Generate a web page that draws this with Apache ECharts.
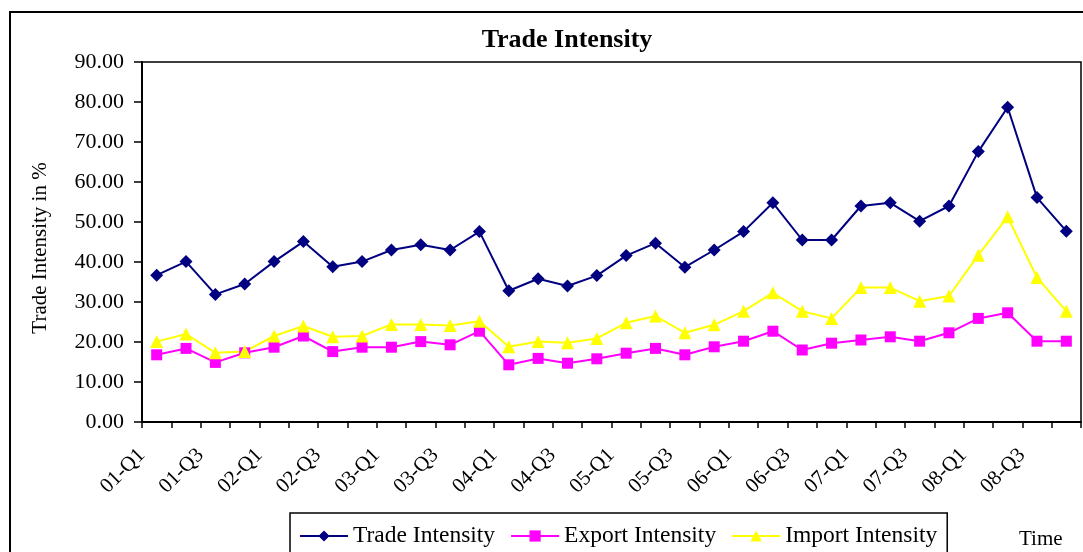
<!DOCTYPE html>
<html>
<head>
<meta charset="utf-8">
<script src="https://cdn.jsdelivr.net/npm/echarts@6/dist/echarts.min.js"></script>
<style>
html,body{margin:0;padding:0;background:#fff;}
#chart{width:1083px;height:552px;}
</style>
</head>
<body>
<div id="chart"></div>
<script>
const categories = [
  '01-Q1','01-Q2','01-Q3','01-Q4','02-Q1','02-Q2','02-Q3','02-Q4',
  '03-Q1','03-Q2','03-Q3','03-Q4','04-Q1','04-Q2','04-Q3','04-Q4',
  '05-Q1','05-Q2','05-Q3','05-Q4','06-Q1','06-Q2','06-Q3','06-Q4',
  '07-Q1','07-Q2','07-Q3','07-Q4','08-Q1','08-Q2','08-Q3','08-Q4'
];
const tradeIntensity = [
  36.7, 40.1, 31.9, 34.5, 40.1, 45.1, 38.8, 40.1,
  43.0, 44.3, 43.0, 47.6, 32.8, 35.8, 34.0, 36.6,
  41.6, 44.7, 38.7, 43.0, 47.6, 54.8, 45.5, 45.5,
  54.0, 54.8, 50.2, 54.0, 67.6, 78.7, 56.1, 47.7
];
const exportIntensity = [
  16.8, 18.4, 14.9, 17.3, 18.7, 21.5, 17.6, 18.7,
  18.7, 20.1, 19.3, 22.7, 14.3, 15.9, 14.7, 15.8,
  17.2, 18.4, 16.8, 18.8, 20.2, 22.7, 18.0, 19.7,
  20.5, 21.3, 20.2, 22.3, 25.9, 27.3, 20.2, 20.2
];
const importIntensity = [
  20.1, 22.0, 17.3, 17.6, 21.5, 24.0, 21.3, 21.5,
  24.4, 24.4, 24.1, 25.2, 18.8, 20.1, 19.8, 20.9,
  24.8, 26.5, 22.3, 24.3, 27.7, 32.3, 27.7, 25.9,
  33.6, 33.6, 30.2, 31.5, 41.7, 51.3, 36.1, 27.7
];
const seriesNames = ['Trade Intensity', 'Export Intensity', 'Import Intensity'];
const yTicks = { min: 0, max: 90, interval: 10 };

const FONT = '"Liberation Serif", "Times New Roman", serif';
const chart = echarts.init(document.getElementById('chart'), null, { renderer: 'canvas' });

function lineSeries(name, data, color, symbol, size) {
  return {
    name: name,
    type: 'line',
    data: data,
    symbol: symbol,
    symbolSize: size,
    lineStyle: { color: color, width: 2 },
    itemStyle: { color: color, borderWidth: 0 },
    emphasis: { disabled: true },
    animation: false
  };
}

chart.setOption({
  backgroundColor: '#fff',
  animation: false,
  textStyle: { fontFamily: FONT },
  title: {
    text: 'Trade Intensity',
    left: 562, textAlign: 'center',
    top: 22,
    textStyle: { fontFamily: FONT, fontSize: 26, fontWeight: 'bold', color: '#000' }
  },
  grid: {
    left: 142, right: 2, top: 62, bottom: 130,
    show: true, borderColor: '#000', borderWidth: 1.5, backgroundColor: 'transparent'
  },
  legend: {
    left: 290, top: 513,
    data: seriesNames,
    itemWidth: 48, itemHeight: 14, itemGap: 15,
    padding: [11, 10, 20, 9],
    borderColor: '#000', borderWidth: 1.5,
    textStyle: { fontFamily: FONT, fontSize: 23.5, color: '#000' }
  },
  xAxis: {
    type: 'category',
    data: categories,
    boundaryGap: true,
    axisLine: { lineStyle: { color: '#000', width: 2 } },
    axisTick: { show: true, interval: 0, length: 6, lineStyle: { color: '#000', width: 1.5 } },
    axisLabel: {
      interval: 1, rotate: 45, margin: 15,
      padding: [0, 21, 0, 0],
      fontFamily: FONT, fontSize: 21, color: '#000'
    },
    splitLine: { show: false }
  },
  yAxis: {
    type: 'value',
    min: yTicks.min, max: yTicks.max, interval: yTicks.interval,
    axisLine: { show: true, lineStyle: { color: '#000', width: 2 } },
    axisTick: { show: true, length: 8, lineStyle: { color: '#000', width: 1.5 } },
    axisLabel: {
      margin: 18, fontFamily: FONT, fontSize: 22, color: '#000',
      formatter: v => v.toFixed(2)
    },
    splitLine: { show: false }
  },
  graphic: [
    {
      type: 'rect', silent: true, z: 100,
      shape: { x: 10, y: 12, width: 1200, height: 700 },
      style: { fill: 'none', stroke: '#000', lineWidth: 2 }
    },
    {
      type: 'text', silent: true, x: 40, y: 248, rotation: Math.PI / 2,
      style: {
        text: 'Trade Intensity in %', fontFamily: FONT, fontSize: 21, fill: '#000',
        align: 'center', verticalAlign: 'middle'
      }
    },
    {
      type: 'text', silent: true, left: 1019, top: 529,
      style: { text: 'Time', fontFamily: FONT, fontSize: 21, fill: '#000' }
    }
  ],
  series: [
    lineSeries(seriesNames[0], tradeIntensity, '#000080', 'diamond', 13),
    lineSeries(seriesNames[1], exportIntensity, '#FF00FF', 'rect', 11),
    lineSeries(seriesNames[2], importIntensity, '#FFFF00', 'triangle', 13)
  ]
});
</script>
</body>
</html>
